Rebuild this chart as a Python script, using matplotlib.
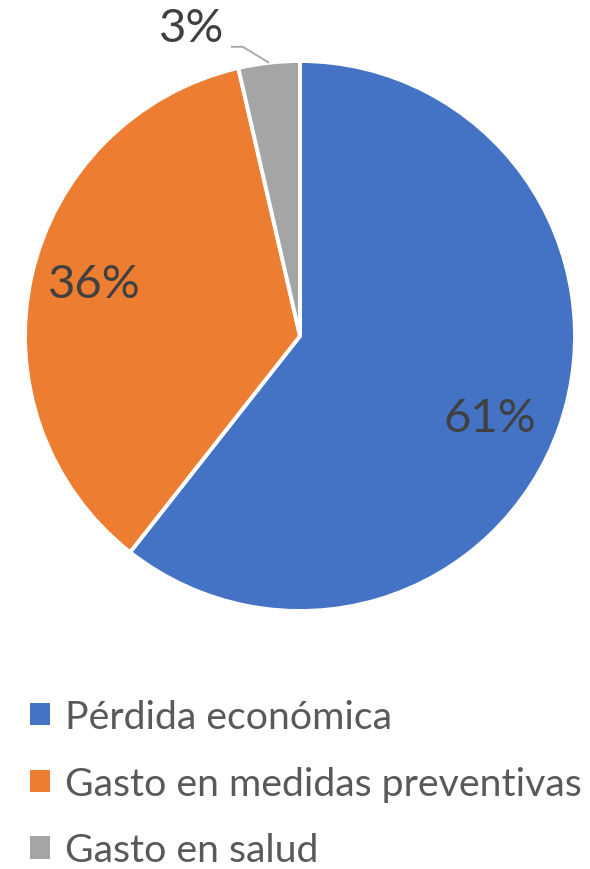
import matplotlib
matplotlib.use('Agg')
import matplotlib.pyplot as plt
from matplotlib.patches import Patch
import numpy as np

categories = ['Pérdida económica', 'Gasto en medidas preventivas', 'Gasto en salud']
shares = [60.6, 35.8, 3.6]
pct_labels = ['61%', '36%', '3%']  # as printed on the chart
colors = ['#4472C4', '#ED7D31', '#A5A5A5']

plt.rcParams['font.family'] = ['Lato', 'DejaVu Sans']

fig = plt.figure(figsize=(5.9, 8.7), dpi=100)
W, H = 590, 870
# pie circle spans x 25..575, y 62..612 (pixels from top)
ax = fig.add_axes([25 / W, (H - 612) / H, 550 / W, 550 / H])

wedges, texts = ax.pie(
    shares, colors=colors, startangle=90, counterclock=False, radius=1,
    wedgeprops=dict(edgecolor='white', linewidth=2.8))
ax.set_xlim(-1, 1)
ax.set_ylim(-1, 1)
ax.set_aspect('equal')
ax.axis('off')

lab_style = dict(ha='center', va='center', fontsize=34, color='#404040')
# label spots as Excel placed them (best fit)
ax.text(0.691, -0.30, pct_labels[0], **lab_style)
ax.text(-0.747, 0.19, pct_labels[1], **lab_style)

# small slice label outside, with an elbow leader line to the arc
w = wedges[2]
mid = np.deg2rad((w.theta1 + w.theta2) / 2)
xe, ye = np.cos(mid), np.sin(mid)
ax.text(-0.393, 1.12, pct_labels[2], clip_on=False, **lab_style)
ax.plot([xe, xe - 0.095, xe - 0.138], [ye, ye + 0.058, ye + 0.058],
        color='#A5A5A5', lw=1.3, clip_on=False, solid_capstyle='butt')

handles = [Patch(facecolor=c, edgecolor='none') for c in colors]
leg = fig.legend(handles, categories, loc='upper left',
                 bbox_to_anchor=(30 / W, 1 - 700 / H), frameon=False,
                 fontsize=28.3, handlelength=0.5, handleheight=0.5,
                 handletextpad=0.4, labelspacing=0.78,
                 borderpad=0, borderaxespad=0)
for t in leg.get_texts():
    t.set_color('#595959')

fig.savefig('out.png', dpi=100)
